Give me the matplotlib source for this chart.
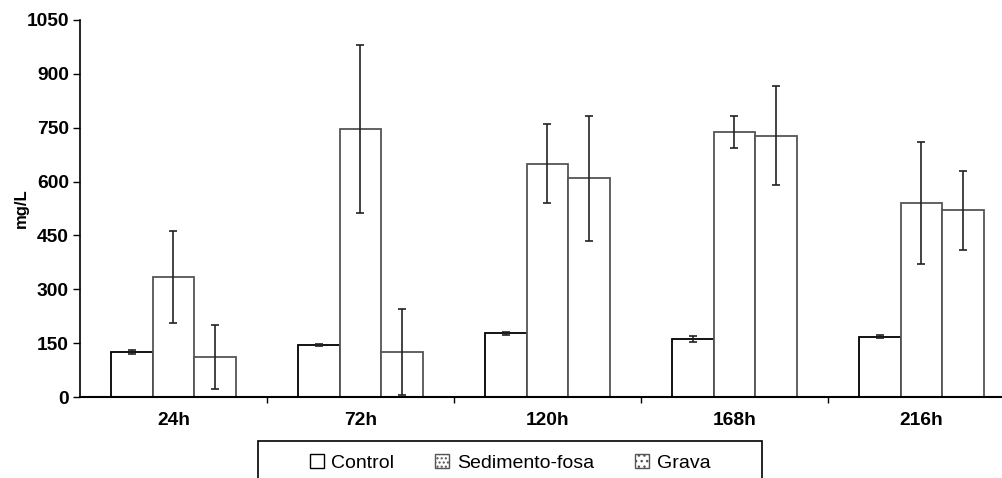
import matplotlib
matplotlib.use("Agg")
import matplotlib.pyplot as plt
import numpy as np
from matplotlib.patches import Patch, Rectangle

plt.rcParams['font.family'] = ['Liberation Sans', 'DejaVu Sans']

categories = ["24h", "72h", "120h", "168h", "216h"]
series_names = ["Control", "Sedimento-fosa", "Grava"]
control = [125, 145, 177, 162, 168]
control_err = [5, 2, 3, 9, 4]
sedimento = [334, 746, 649, 739, 540]
sedimento_err = [128, 233, 110, 45, 170]
grava = [111, 125, 609, 728, 520]
grava_err = [90, 120, 175, 138, 110]
yticks = [0, 150, 300, 450, 600, 750, 900, 1050]

W, H = 1003, 478
fig = plt.figure(figsize=(W / 100, H / 100), dpi=100)
ax = fig.add_axes([80 / W, 81 / H, 935 / W, 377 / H])

x = np.arange(len(categories))
bw = 0.222
edgecols = ["black", "#555555", "#555555"]
for i, (vals, errs) in enumerate([(control, control_err),
                                  (sedimento, sedimento_err),
                                  (grava, grava_err)]):
    pos = x + (i - 1) * bw
    ax.bar(pos, vals, width=bw, color="white", edgecolor=edgecols[i],
           linewidth=1.3, zorder=2)
    ax.errorbar(pos, vals, yerr=errs, fmt="none", ecolor="#222222",
                elinewidth=1.2, capsize=2.8, capthick=1.2, zorder=3)

ax.set_xlim(-0.5, 4.5)
ax.set_ylim(0, 1050)
ax.set_yticks(yticks)
ax.set_yticklabels([str(v) for v in yticks], fontsize=13.8, fontweight="bold")
ax.tick_params(axis="y", length=5, width=1, pad=3, direction="out")

ax.set_xticks(np.arange(len(categories) - 1) + 0.5)
ax.set_xticklabels([])
ax.tick_params(axis="x", which="major", length=4, width=1, direction="out")
ax.set_xticks(x, minor=True)
ax.set_xticklabels(categories, minor=True, fontsize=13.8, fontweight="bold")
ax.tick_params(axis="x", which="minor", length=0, pad=11)

for s in ["top", "right"]:
    ax.spines[s].set_visible(False)
ax.spines["left"].set_linewidth(1.2)
ax.spines["bottom"].set_linewidth(1.5)

ax.set_ylabel("mg/L", fontsize=12, fontweight="bold")
ax.yaxis.set_label_coords(-0.0545, 0.5)

handles = [
    Patch(facecolor="white", edgecolor="black", linewidth=1),
    Patch(facecolor="white", edgecolor="#555555", hatch="....", linewidth=1),
    Patch(facecolor="white", edgecolor="#555555", hatch="...", linewidth=1),
]
fig.legend(handles, series_names, loc="center", bbox_to_anchor=(0.5085, 0.031),
           ncol=3, frameon=False, fontsize=14, handlelength=0.72,
           handleheight=0.72, handletextpad=0.4, columnspacing=2.1)
fig.patches.append(Rectangle((258 / W, -0.05), (762 - 258) / W, 0.05 + (478 - 441) / H,
                             transform=fig.transFigure, fill=False,
                             edgecolor="black", linewidth=1.2))

fig.savefig("out.png", dpi=100)
